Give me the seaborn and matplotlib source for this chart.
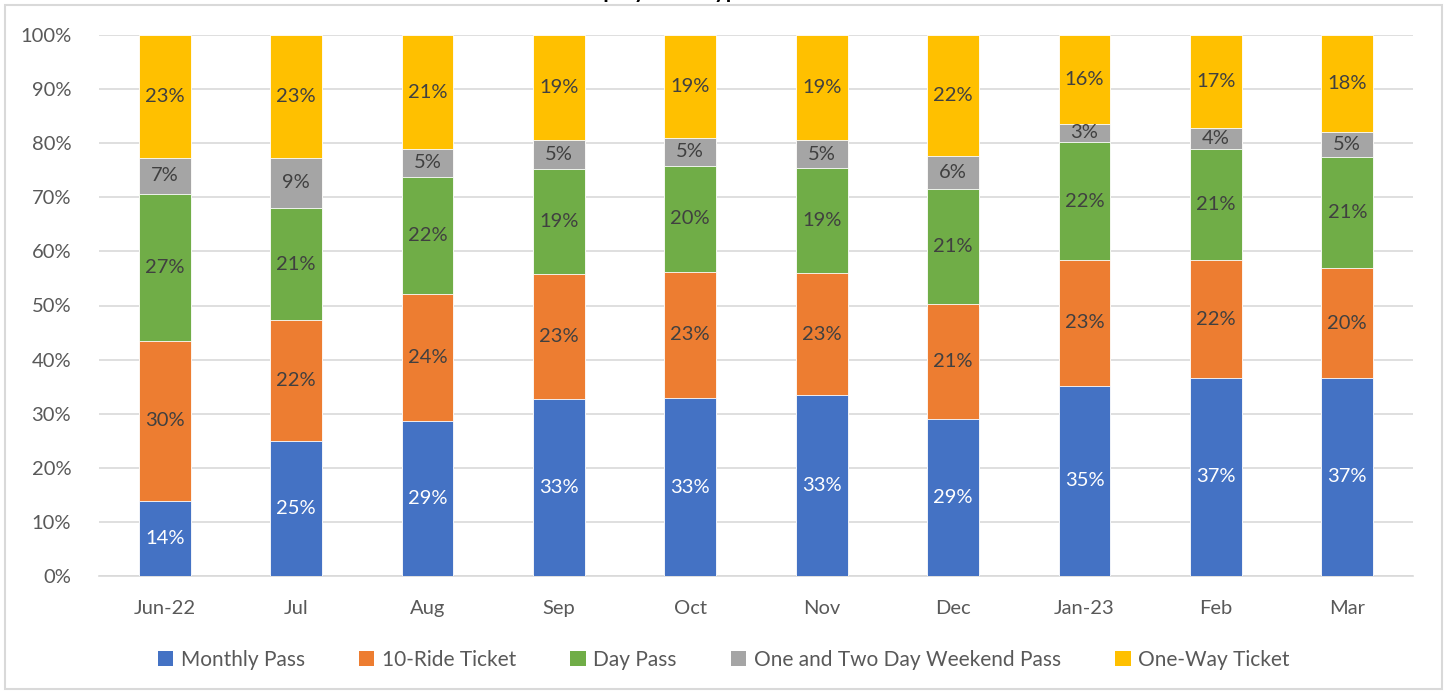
import matplotlib
matplotlib.use("Agg")
import matplotlib.pyplot as plt
from matplotlib.patches import Patch, Rectangle
import seaborn as sns
import numpy as np
import pandas as pd

months = ["Jun-22", "Jul", "Aug", "Sep", "Oct", "Nov", "Dec", "Jan-23", "Feb", "Mar"]
series_names = ["Monthly Pass", "10-Ride Ticket", "Day Pass",
                "One and Two Day Weekend Pass", "One-Way Ticket"]
monthly_pass = [13.9, 25.0, 28.6, 32.7, 32.9, 33.4, 29.0, 35.2, 36.6, 36.6]
ten_ride = [29.6, 22.3, 23.6, 23.2, 23.3, 22.6, 21.3, 23.2, 21.8, 20.3]
day_pass = [27.1, 20.7, 21.6, 19.4, 19.6, 19.4, 21.2, 21.8, 20.6, 20.6]
weekend_pass = [6.7, 9.3, 5.1, 5.3, 5.2, 5.2, 6.1, 3.4, 3.9, 4.6]
one_way = [22.7, 22.7, 21.1, 19.4, 19.0, 19.4, 22.4, 16.4, 17.1, 17.9]
title_text = "Ridership by Fare Type"

colors = ["#4472C4", "#ED7D31", "#70AD47", "#A5A5A5", "#FFC000"]
label_colors = ["white", "#404040", "#404040", "#404040", "#404040"]

sns.set_theme(style="white")
plt.rcParams["font.family"] = ["Lato", "DejaVu Sans"]

series = [monthly_pass, ten_ride, day_pass, weekend_pass, one_way]
vals = np.array(series, dtype=float)
cum = np.cumsum(vals, axis=0)

fig = plt.figure(figsize=(14.47, 6.94), dpi=100)
ax = fig.add_axes([99 / 1447, 1 - 576 / 694, (1413 - 99) / 1447, (576 - 35) / 694])

# draw cumulative bars from top layer down so each overlays the previous
for i in range(len(series) - 1, -1, -1):
    df = pd.DataFrame({"month": months, "value": cum[i]})
    sns.barplot(data=df, x="month", y="value", order=months, color=colors[i],
                saturation=1, width=0.395, edgecolor="white", linewidth=0.6,
                ax=ax, zorder=3)

# data labels
for i in range(len(series)):
    for j in range(len(months)):
        base = cum[i - 1][j] if i > 0 else 0
        mid = base + vals[i][j] / 2
        ax.text(j, mid, f"{vals[i][j]:.0f}%", ha="center", va="center",
                fontsize=14.5, color=label_colors[i], zorder=5)

ax.set_ylim(0, 100)
ax.set_xlim(-0.5, len(months) - 0.5)
ax.set_yticks(np.arange(0, 101, 10))
ax.set_yticklabels([f"{t}%" for t in range(0, 101, 10)])
ax.set_xlabel("")
ax.set_ylabel("")
ax.grid(axis="y", color="#D9D9D9", linewidth=1.2, zorder=0)
ax.set_axisbelow(True)
for s in ["left", "right", "top"]:
    ax.spines[s].set_visible(False)
ax.spines["bottom"].set_color("#D9D9D9")
ax.spines["bottom"].set_linewidth(1.2)
ax.tick_params(axis="both", length=0, labelsize=14.5, colors="#595959")
ax.tick_params(axis="x", pad=17)
ax.tick_params(axis="y", pad=20)

handles = [Patch(facecolor=c, edgecolor="none") for c in colors]
fig.legend(handles, series_names, loc="center", bbox_to_anchor=(0.5, 1 - 660 / 694),
           ncol=5, frameon=False, fontsize=15, handlelength=0.75, handleheight=0.75,
           handletextpad=0.35, columnspacing=2.6, labelcolor="#595959")

# chart border
fig.patches.append(Rectangle((5 / 1447, 5 / 694), 1437 / 1447, 684 / 694,
                             transform=fig.transFigure, fill=False,
                             edgecolor="#D9D9D9", linewidth=1.5))

# title, cropped at top of the image as in the reference
fig.text(0.44, 1 + 1.5 / 694, title_text, ha="center", va="baseline",
         fontsize=16, fontweight="bold", color="#000000")

fig.savefig("out.png", dpi=100)
